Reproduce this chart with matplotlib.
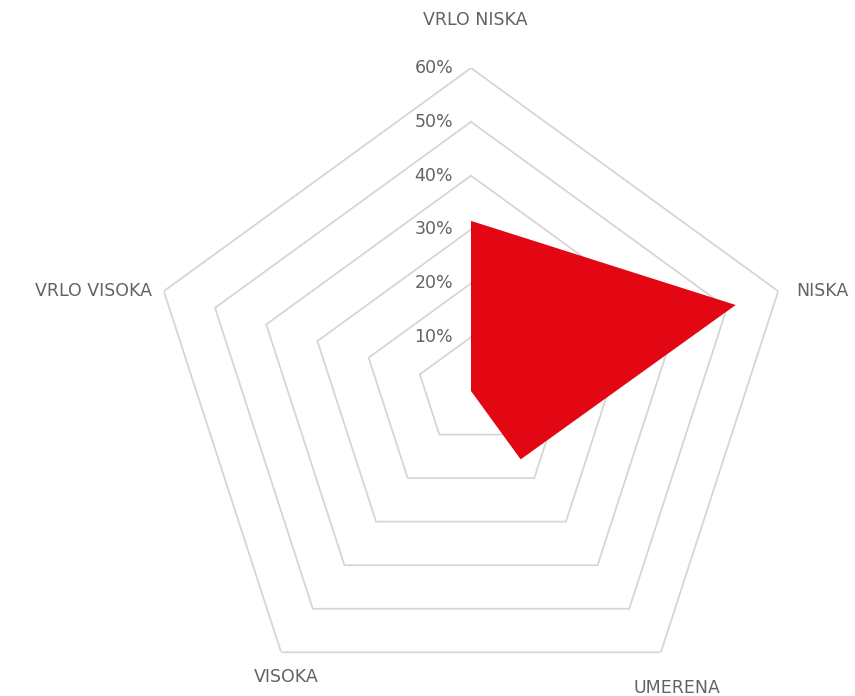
import numpy as np
import matplotlib
matplotlib.use("Agg")
import matplotlib.pyplot as plt

categories = ["VRLO NISKA", "NISKA", "UMERENA", "VISOKA", "VRLO VISOKA"]
values = [31.6, 51.7, 15.7, 0.0, 0.0]
rings = [10, 20, 30, 40, 50, 60]
ring_labels = ["10%", "20%", "30%", "40%", "50%", "60%"]

plt.rcParams['font.family'] = ['DejaVu Sans']
TXT = "#636363"
GRID = "#d6d6d6"
RED = "#e30613"

fig = plt.figure(figsize=(8.55, 6.96), dpi=100)
ax = fig.add_axes([148/855, -18/696, 646/855, 646/696], projection='polar')
ax.set_theta_offset(np.pi/2)
ax.set_theta_direction(-1)
ax.set_ylim(0, 60)
ax.grid(False)
ax.spines['polar'].set_visible(False)
ax.set_xticks([])
ax.set_yticks([])
ax.patch.set_alpha(0)

n = len(categories)
angles = np.arange(n) * 2*np.pi/n
closed = np.concatenate([angles, angles[:1]])

for r in rings:
    ax.plot(closed, [r]*(n+1), color=GRID, lw=1.3, zorder=1, solid_joinstyle='miter')

vals = np.array(values + values[:1])
ax.fill(closed, vals, color=RED, lw=0, zorder=3)

for r, lab in zip(rings, ring_labels):
    ax.annotate(lab, xy=(0, r), xytext=(-18, 0), textcoords='offset pixels',
                ha='right', va='center', fontsize=12.5,
                color=TXT, zorder=4)

offsets = [(4, 48), (18, 0), (16, -36), (5, -25), (-12, 0)]
has = ['center', 'left', 'center', 'center', 'right']
for a, cat, off, ha in zip(angles, categories, offsets, has):
    ax.annotate(cat, xy=(a, 60), xytext=off, textcoords='offset pixels',
                ha=ha, va='center', fontsize=12.5,
                color=TXT, annotation_clip=False)

fig.savefig("out.png", dpi=100)
